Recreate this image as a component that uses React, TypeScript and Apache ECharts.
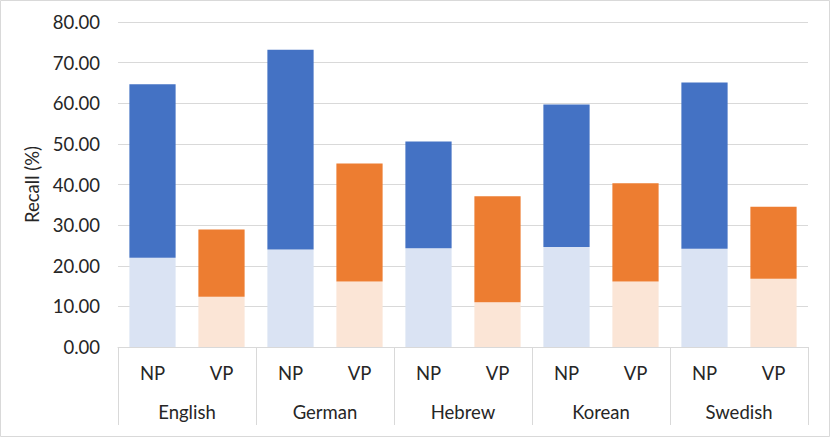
import React, { useEffect, useRef } from "react";
import * as echarts from "echarts";

const languages = ["English", "German", "Hebrew", "Korean", "Swedish"];
const phraseTypes = ["NP", "VP"];
const npLower = [22.0, 24.0, 24.3, 24.6, 24.2];
const npTotal = [64.7, 73.2, 50.6, 59.7, 65.1];
const vpLower = [12.4, 16.1, 11.0, 16.1, 16.8];
const vpTotal = [28.9, 45.2, 37.1, 40.3, 34.5];
const yTicks = { min: 0, max: 80, interval: 10 };

const FONT = "Lato";
const TEXT = "#262626";
const GRID = "#D9D9D9";
const FS = 18.5;

export default function App() {
  const ref = useRef<HTMLDivElement>(null);
  useEffect(() => {
    document.body.style.margin = "0";
    const chart = echarts.init(ref.current!, null, { renderer: "svg" });
    const cats: string[] = [];
    const lower: number[] = [];
    const upper: number[] = [];
    languages.forEach((_, i) => {
      cats.push(phraseTypes[0], phraseTypes[1]);
      lower.push(npLower[i], vpLower[i]);
      upper.push(+(npTotal[i] - npLower[i]).toFixed(2), +(vpTotal[i] - vpLower[i]).toFixed(2));
    });
    chart.setOption({
      animation: false,
      textStyle: { fontFamily: FONT },
      graphic: [
        {
          type: "rect",
          shape: { x: 0.5, y: 0.5, width: 829, height: 436 },
          style: { fill: "none", stroke: GRID, lineWidth: 1 },
          silent: true,
        },
      ],
      grid: { left: 118, right: 22, top: 22, bottom: 90, containLabel: false },
      xAxis: [
        {
          type: "category",
          data: cats,
          position: "bottom",
          axisLine: { show: true, lineStyle: { color: GRID, width: 1 } },
          axisTick: { show: false },
          axisLabel: { interval: 0, margin: 16, fontSize: FS, color: TEXT, fontFamily: FONT },
        },
        {
          type: "category",
          data: languages,
          position: "bottom",
          axisLine: { show: false },
          axisTick: { show: true, length: 78, interval: 0, lineStyle: { color: GRID, width: 1 } },
          axisLabel: { interval: 0, margin: 55, fontSize: FS, color: TEXT, fontFamily: FONT },
        },
      ],
      yAxis: {
        type: "value",
        min: yTicks.min,
        max: yTicks.max,
        interval: yTicks.interval,
        name: "Recall (%)",
        nameLocation: "middle",
        nameGap: 71,
        nameRotate: 90,
        nameTextStyle: { fontSize: FS, color: TEXT, fontFamily: FONT },
        axisLine: { show: false },
        axisTick: { show: false },
        axisLabel: {
          margin: 18,
          fontSize: FS,
          color: TEXT,
          fontFamily: FONT,
          formatter: (v: number) => v.toFixed(2),
        },
        splitLine: { lineStyle: { color: GRID, width: 1 } },
      },
      series: [
        {
          type: "bar",
          stack: "s",
          data: lower,
          barWidth: "67%",
          itemStyle: {
            color: (p: any) => (p.dataIndex % 2 === 0 ? "#DAE3F3" : "#FBE5D6"),
          },
        },
        {
          type: "bar",
          stack: "s",
          data: upper,
          barWidth: "67%",
          itemStyle: {
            color: (p: any) => (p.dataIndex % 2 === 0 ? "#4472C4" : "#ED7D31"),
          },
        },
      ],
    });
    return () => chart.dispose();
  }, []);
  return <div ref={ref} style={{ width: 830, height: 437 }} />;
}
